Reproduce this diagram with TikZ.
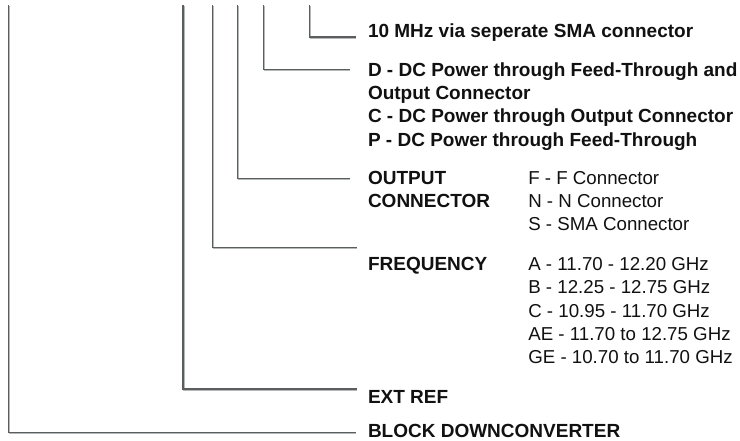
\documentclass[tikz,border=0pt]{standalone}
\usepackage{fontspec}
\setmainfont{Liberation Sans}
\definecolor{linecol}{HTML}{5A5E5E}
\definecolor{shadowcol}{HTML}{B4B8B8}
\definecolor{txtcol}{HTML}{111111}
\begin{document}
\begin{tikzpicture}[x=1pt,y=-1pt,
  lbl/.style={anchor=base west,inner sep=0pt,outer sep=0pt,text=txtcol,font=\fontsize{19}{22}\selectfont\bfseries},
  val/.style={anchor=base west,inner sep=0pt,outer sep=0pt,text=txtcol,font=\fontsize{18.7}{22}\selectfont},
  conn/.style={draw=linecol,line width=1.3pt,line cap=rect,
    preaction={draw=shadowcol,line width=1.3pt,transform canvas={xshift=0.9pt,yshift=-0.9pt}}}]
\useasboundingbox[fill=white] (0,0) rectangle (740,441);

% texts
\node[lbl] (n10) at (368,37.3) {10 MHz via seperate SMA connector};
\node[lbl] (nD1) at (368,76.3) {D - DC Power through Feed-Through and};
\node[lbl] (nD2) at (368,99.6) {Output Connector};
\node[lbl] (nC)  at (368,123) {C - DC Power through Output Connector};
\node[lbl] (nP)  at (368,146.3) {P - DC Power through Feed-Through};

\node[lbl] (nOut1) at (368,184.3) {OUTPUT};
\node[lbl] (nOut2) at (368,207.6) {CONNECTOR};
\node[val] (nF) at (528.3,184.3) {F - F Connector};
\node[val] (nN) at (528.3,207.6) {N - N Connector};
\node[val] (nS) at (528.3,231) {S - SMA Connector};

\node[lbl] (nFreq) at (368,270.5) {FREQUENCY};
\node[val] (nA)  at (528.3,270.5) {A - 11.70 - 12.20 GHz};
\node[val] (nB)  at (528.3,293.8) {B - 12.25 - 12.75 GHz};
\node[val] (nCC) at (528.3,317.2) {C - 10.95 - 11.70 GHz};
\node[val] (nAE) at (528.3,340.5) {AE - 11.70 to 12.75 GHz};
\node[val] (nGE) at (528.3,363.8) {GE - 10.70 to 11.70 GHz};

\node[lbl] (nExt) at (368,403.5) {EXT REF};
\node[lbl] (nBlock) at (368,437.5) {BLOCK DOWNCONVERTER};

% connector ends
\coordinate (t1) at (309.7,5.5);  \coordinate (e1) at (355.5,37);
\coordinate (t2) at (263.7,5.5);  \coordinate (e2) at (349.5,69.3);
\coordinate (t3) at (237.7,5.5);  \coordinate (e3) at (349.5,178.7);
\coordinate (t4) at (212.3,5.5);  \coordinate (e4) at (356,247.3);
\coordinate (t5) at (183,5.5);    \coordinate (e5) at (356,389);
\coordinate (t6) at (8.7,5.5);    \coordinate (e6) at (355.5,432.3);

\draw[conn] (t1) |- (e1);
\draw[conn] (t2) |- (e2);
\draw[conn] (t3) |- (e3);
\draw[conn] (t4) |- (e4);
\draw[conn] (t5) |- (e5);
\draw[conn] (t6) |- (e6);
\end{tikzpicture}
\end{document}
